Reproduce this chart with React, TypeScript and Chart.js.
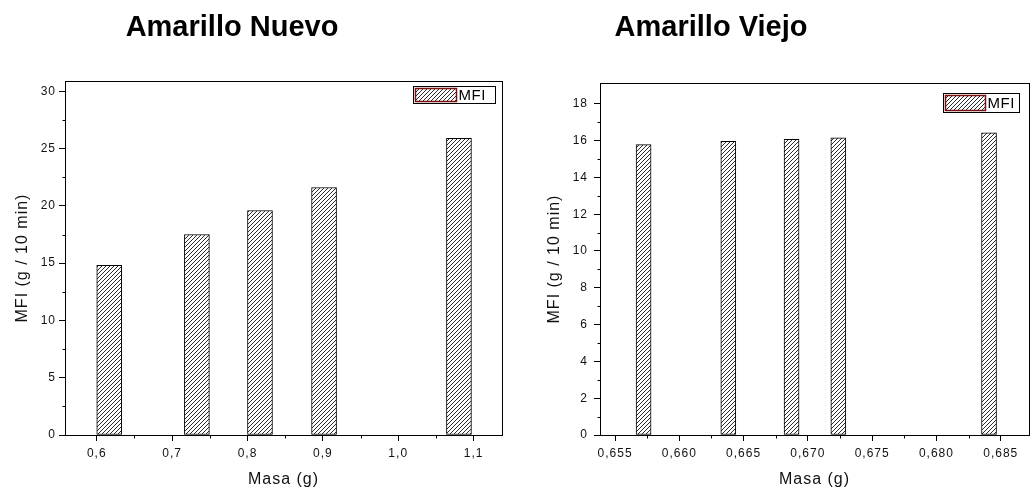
import React, { useEffect, useRef } from 'react';
import { Chart, registerables } from 'chart.js';

Chart.register(...registerables);

// ---- Data: Amarillo Nuevo ----
const nuevoTitle = 'Amarillo Nuevo';
const nuevoMasa = [0.6166, 0.7329, 0.8166, 0.9016, 1.0806];
const nuevoMFI = [14.8, 17.5, 19.6, 21.6, 25.9];
const nuevoXMajor = [0.6, 0.7, 0.8, 0.9, 1.0, 1.1];
const nuevoXMinor = [0.65, 0.75, 0.85, 0.95, 1.05];
const nuevoYMajor = [0, 5, 10, 15, 20, 25, 30];
const nuevoYMinor = [2.5, 7.5, 12.5, 17.5, 22.5, 27.5];

// ---- Data: Amarillo Viejo ----
const viejoTitle = 'Amarillo Viejo';
const viejoMasa = [0.65722, 0.66381, 0.66873, 0.67237, 0.68409];
const viejoMFI = [15.78, 15.96, 16.07, 16.15, 16.42];
const viejoXMajor = [0.655, 0.66, 0.665, 0.67, 0.675, 0.68, 0.685];
const viejoXMinor = [0.6575, 0.6625, 0.6675, 0.6725, 0.6775, 0.6825];
const viejoYMajor = [0, 2, 4, 6, 8, 10, 12, 14, 16, 18];
const viejoYMinor = [1, 3, 5, 7, 9, 11, 13, 15, 17];

const seriesLabel = 'MFI';
const xTitle = 'Masa (g)';
const yTitle = 'MFI (g / 10 min)';

const FONT = "'Liberation Sans', Arial, sans-serif";

function makeHatch(): CanvasPattern | string {
  const c = document.createElement('canvas');
  c.width = 4;
  c.height = 4;
  const g = c.getContext('2d');
  if (!g) return '#fff';
  g.fillStyle = '#ffffff';
  g.fillRect(0, 0, 4, 4);
  g.fillStyle = '#2a2a2a';
  for (let i = 0; i < 4; i++) g.fillRect(i, 3 - i, 1, 1);
  const p = g.createPattern(c, 'repeat');
  return p || '#fff';
}

const framePlugin = {
  id: 'frameAndMinor',
  beforeDraw(chart: any) {
    chart.ctx.letterSpacing = '1px';
  },
  afterDraw(chart: any, _args: any, opts: any) {
    const ctx = chart.ctx;
    const ca = chart.chartArea;
    ctx.save();
    ctx.letterSpacing = '0px';
    ctx.strokeStyle = '#000';
    ctx.lineWidth = 1;
    const l = Math.round(ca.left) + 0.5;
    const t = Math.round(ca.top) + 0.5;
    const r = Math.round(ca.right) + 0.5;
    const b = Math.round(ca.bottom) + 0.5;
    ctx.strokeRect(l, t, r - l, b - t);
    // minor ticks
    const xs = chart.scales.x;
    const ys = chart.scales.y;
    ctx.beginPath();
    (opts.xMinor || []).forEach((v: number) => {
      const px = Math.round(xs.getPixelForValue(v)) + 0.5;
      ctx.moveTo(px, b);
      ctx.lineTo(px, b + 3);
    });
    (opts.yMinor || []).forEach((v: number) => {
      const py = Math.round(ys.getPixelForValue(v)) + 0.5;
      ctx.moveTo(l, py);
      ctx.lineTo(l - 3, py);
    });
    ctx.stroke();
    // legend
    const lg = opts.legend;
    if (lg) {
      const x0 = Math.round(ca.right - lg.right - lg.w) + 0.5;
      const y0 = Math.round(ca.top + lg.top) + 0.5;
      ctx.fillStyle = '#fff';
      ctx.fillRect(x0, y0, lg.w, lg.h);
      ctx.strokeStyle = '#000';
      ctx.strokeRect(x0, y0, lg.w, lg.h);
      const ds = chart.data.datasets[0];
      ctx.fillStyle = ds.backgroundColor;
      ctx.fillRect(x0 + 2, y0 + 2, lg.sw, lg.h - 4);
      ctx.strokeStyle = '#7a1010';
      ctx.lineWidth = 1.5;
      ctx.strokeRect(x0 + 2, y0 + 2, lg.sw, lg.h - 4);
      ctx.fillStyle = '#000';
      ctx.font = `15px ${FONT}`;
      ctx.textBaseline = 'middle';
      ctx.textAlign = 'left';
      ctx.letterSpacing = '0.5px';
      ctx.fillText(ds.label, x0 + lg.sw + 4, y0 + lg.h / 2 + 0.5);
    }
    ctx.restore();
  },
};

interface PanelProps {
  masa: number[];
  mfi: number[];
  xMajor: number[];
  xMinor: number[];
  yMajor: number[];
  yMinor: number[];
  xMin: number;
  xMax: number;
  yMax: number;
  decimals: number;
  barPx: number;
  pad: { top: number; right: number };
  yAxisW: number;
  xAxisH: number;
  yTitlePad: number;
  yTickPad: number;
  legend: { right: number; top: number; w: number; h: number; sw: number };
}

function Panel(p: PanelProps) {
  const ref = useRef<HTMLCanvasElement | null>(null);
  useEffect(() => {
    if (!ref.current) return;
    const hatch = makeHatch();
    const tickFont = { family: FONT, size: 12 };
    const titleFont = { family: FONT, size: 16 };
    const chart = new Chart(ref.current, {
      type: 'bar',
      data: {
        datasets: [
          {
            label: seriesLabel,
            data: p.masa.map((x, i) => ({ x, y: p.mfi[i] })),
            backgroundColor: hatch as any,
            borderColor: '#000',
            borderWidth: 1,
            borderSkipped: false,
            barThickness: p.barPx,
          } as any,
        ],
      },
      options: {
        animation: false,
        responsive: false,
        events: [],
        layout: { padding: { left: 0, top: p.pad.top, right: p.pad.right, bottom: 0 } },
        plugins: {
          legend: { display: false },
          tooltip: { enabled: false },
          frameAndMinor: { xMinor: p.xMinor, yMinor: p.yMinor, legend: p.legend },
        } as any,
        scales: {
          x: {
            type: 'linear',
            min: p.xMin,
            max: p.xMax,
            offset: false,
            afterBuildTicks: (s: any) => {
              s.ticks = p.xMajor.map((v) => ({ value: v }));
            },
            afterFit: (s: any) => {
              s.height = p.xAxisH;
            },
            ticks: {
              autoSkip: false,
              maxRotation: 0,
              minRotation: 0,
              padding: 5,
              color: '#111',
              font: tickFont,
              callback: (v: any) => Number(v).toFixed(p.decimals).replace('.', ','),
            },
            grid: { drawOnChartArea: false, offset: false, tickLength: 6, tickColor: '#000' },
            border: { display: true, color: '#000', width: 1 },
            title: {
              display: true,
              text: xTitle,
              color: '#111',
              font: titleFont,
              padding: { top: 0, bottom: 4 },
            },
          },
          y: {
            type: 'linear',
            min: 0,
            max: p.yMax,
            afterBuildTicks: (s: any) => {
              s.ticks = p.yMajor.map((v) => ({ value: v }));
            },
            afterFit: (s: any) => {
              s.width = p.yAxisW;
            },
            ticks: {
              autoSkip: false,
              padding: p.yTickPad,
              color: '#111',
              font: tickFont,
              callback: (v: any) => String(v),
            },
            grid: { drawOnChartArea: false, tickLength: 6, tickColor: '#000' },
            border: { display: true, color: '#000', width: 1 },
            title: {
              display: true,
              text: yTitle,
              color: '#111',
              font: titleFont,
              padding: { top: p.yTitlePad, bottom: 0 },
            },
          },
        },
      } as any,
      plugins: [framePlugin],
    });
    return () => chart.destroy();
  }, []);
  return <canvas ref={ref} width={516} height={493} style={{ display: 'block', width: 516, height: 493 }} />;
}

const titleStyle: React.CSSProperties = {
  position: 'absolute',
  top: 12,
  fontFamily: FONT,
  fontWeight: 'bold',
  fontSize: 29,
  lineHeight: '29px',
  color: '#000',
  whiteSpace: 'nowrap',
  transform: 'translateX(-50%)',
};

export default function App() {
  return (
    <div
      style={{
        position: 'absolute',
        left: 0,
        top: 0,
        width: 1032,
        height: 493,
        background: '#fff',
        overflow: 'hidden',
      }}
    >
      <div style={{ position: 'absolute', left: 0, top: 0 }}>
        <Panel
          masa={nuevoMasa}
          mfi={nuevoMFI}
          xMajor={nuevoXMajor}
          xMinor={nuevoXMinor}
          yMajor={nuevoYMajor}
          yMinor={nuevoYMinor}
          xMin={0.5579}
          xMax={1.1377}
          yMax={30.9}
          decimals={1}
          barPx={25}
          pad={{ top: 81, right: 14 }}
          yAxisW={65}
          xAxisH={58}
          yTitlePad={13}
          yTickPad={3}
          legend={{ right: 7, top: 5, w: 82, h: 17, sw: 41 }}
        />
      </div>
      <div style={{ position: 'absolute', left: 516, top: 0 }}>
        <Panel
          masa={viejoMasa}
          mfi={viejoMFI}
          xMajor={viejoXMajor}
          xMinor={viejoXMinor}
          yMajor={viejoYMajor}
          yMinor={viejoYMinor}
          xMin={0.65383}
          xMax={0.6872}
          yMax={19.13}
          decimals={3}
          barPx={15}
          pad={{ top: 83, right: 3 }}
          yAxisW={84}
          xAxisH={58}
          yTitlePad={29}
          yTickPad={6}
          legend={{ right: 10, top: 10, w: 76, h: 19, sw: 40 }}
        />
      </div>
      <div style={{ ...titleStyle, left: 232 }}>{nuevoTitle}</div>
      <div style={{ ...titleStyle, left: 711 }}>{viejoTitle}</div>
    </div>
  );
}
